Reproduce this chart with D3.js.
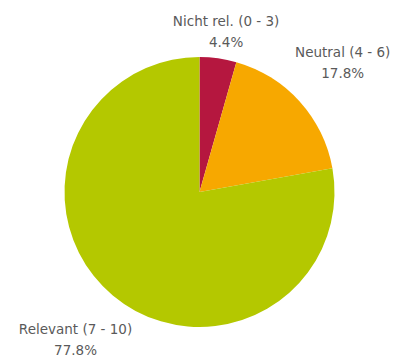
<!DOCTYPE html>
<html>
  <head>
    <meta charset="UTF-8" />
    <style>
      body { margin: 0; background: #fff; }
      text { font-family: 'DejaVu Sans', Verdana, sans-serif; fill: #5a5a5a; }
    </style>
  </head>
  <body>
    <svg></svg>

    <script src="https://d3js.org/d3.v7.min.js"></script>

    <script>
      let width = 399,
        height = 360

      // data
      let categories = ['Nicht rel. (0 - 3)', 'Neutral (4 - 6)', 'Relevant (7 - 10)']
      let values = [4.4, 17.8, 77.8]
      let colors = ['#b5173f', '#f7a800', '#b4c800']

      let svg = d3.select('svg').attr('width', width).attr('height', height)

      let cx = 199.5,
        cy = 192,
        r = 135

      let data = categories.map((c, i) => ({ name: c, value: values[i], color: colors[i] }))

      let pie = d3.pie().sort(null).value((d) => d.value)
      let arc = d3.arc().innerRadius(0).outerRadius(r)

      let g = svg.append('g').attr('transform', 'translate(' + cx + ',' + cy + ')')

      g.selectAll('path')
        .data(pie(data))
        .enter()
        .append('path')
        .attr('d', arc)
        .attr('fill', (d) => d.data.color)

      // labels outside the pie, along the middle of each slice
      let labelArc = d3.arc().innerRadius(r * 1.43).outerRadius(r * 1.43)
      let lineGap = 21

      let labels = g
        .selectAll('text')
        .data(pie(data))
        .enter()
        .append('text')
        .attr('text-anchor', 'middle')
        .attr('font-size', 13.5)
        .attr('transform', (d) => {
          let p = labelArc.centroid(d)
          // keep the two line block inside the picture
          let y = Math.max(p[1], 31 - cy)
          y = Math.min(y, height - 17 - cy)
          return 'translate(' + p[0] + ',' + (y - 5.5) + ')'
        })

      labels.append('tspan').attr('x', 0).attr('dy', 0).text((d) => d.data.name)
      labels
        .append('tspan')
        .attr('x', 0)
        .attr('dy', lineGap)
        .text((d) => d.data.value.toFixed(1) + '%')
    </script>
  </body>
</html>
